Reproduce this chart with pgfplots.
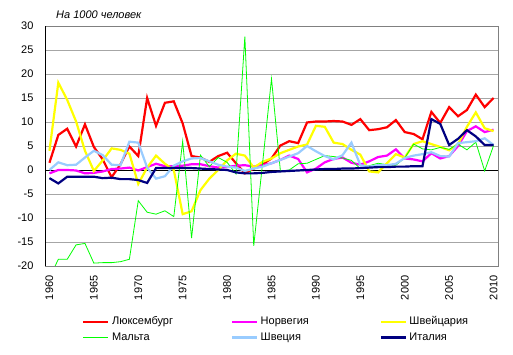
\documentclass[border=0pt]{standalone}
\usepackage{fontspec}
\setmainfont{Liberation Sans}
\usepackage{pgfplots}
\pgfplotsset{compat=1.18}
\definecolor{cLux}{HTML}{FF0000}
\definecolor{cNor}{HTML}{FF00FF}
\definecolor{cSwi}{HTML}{FFFF00}
\definecolor{cMal}{HTML}{00FF00}
\definecolor{cSwe}{HTML}{99CCFF}
\definecolor{cIta}{HTML}{000080}
\definecolor{cGrid}{HTML}{A6A6A6}
\definecolor{cFrame}{HTML}{808080}

\pgfplotstableread{
year lux nor swi mal swe ita
1960 1.5 -0.7 4.0 -22.5 0.0 -1.7
1961 7.3 0.0 18.2 -18.6 1.6 -2.8
1962 8.6 0.0 14.6 -18.6 1.0 -1.4
1963 4.9 -0.1 10.1 -15.6 1.1 -1.4
1964 9.5 -0.7 4.0 -15.3 2.6 -1.4
1965 4.8 -0.6 -0.2 -19.4 4.0 -1.4
1966 2.2 -0.3 2.0 -19.3 3.1 -1.7
1967 -1.5 0.2 4.5 -19.3 1.1 -1.6
1968 1.2 0.3 4.2 -19.1 1.0 -1.9
1969 4.9 0.5 3.4 -18.6 5.9 -1.9
1970 2.9 -0.1 -2.9 -6.4 5.7 -2.1
1971 15.0 0.6 0.5 -8.8 0.5 -2.7
1972 9.2 1.3 3.0 -9.2 -1.8 0.4
1973 14.0 0.8 1.3 -8.5 -1.3 0.4
1974 14.3 0.8 0.0 -9.7 0.9 0.4
1975 9.7 0.9 -9.2 6.0 1.8 0.4
1976 2.9 1.2 -8.6 -14.2 2.4 0.4
1977 2.6 1.2 -4.2 3.1 2.5 0.3
1978 1.7 0.8 -1.8 0.7 1.8 0.2
1979 2.9 0.5 0.0 2.6 1.1 0.1
1980 3.6 0.6 2.0 1.6 0.7 0.0
1981 1.4 0.9 3.4 -0.8 0.5 -0.5
1982 -0.7 1.0 3.0 27.8 -0.2 -0.7
1983 0.3 0.7 0.5 -15.8 0.3 -0.7
1984 1.2 1.0 1.7 1.5 0.7 -0.6
1985 2.4 1.4 2.4 19.0 1.4 -0.4
1986 5.1 2.1 3.5 -0.2 2.1 -0.3
1987 6.0 3.0 4.2 0.0 2.8 -0.2
1988 5.6 2.3 4.9 1.3 3.5 -0.1
1989 9.9 -0.5 5.3 1.4 5.0 0.0
1990 10.1 0.3 9.2 2.2 3.9 0.1
1991 10.1 1.6 9.0 3.0 2.9 0.2
1992 10.2 2.3 5.7 2.8 2.2 0.2
1993 10.1 2.6 5.4 2.5 3.1 0.3
1994 9.4 1.5 4.2 2.0 5.7 0.3
1995 10.6 1.1 3.2 0.3 1.0 0.4
1996 8.3 1.8 -0.3 0.9 0.7 0.5
1997 8.5 2.7 -0.5 1.4 1.0 0.6
1998 8.9 3.0 1.4 1.1 1.0 0.6
1999 10.4 4.3 3.3 1.0 1.3 0.7
2000 7.9 2.4 2.6 2.5 2.5 0.7
2001 7.5 2.2 5.4 5.4 3.0 0.8
2002 6.4 1.8 6.0 4.4 3.3 0.8
2003 12.1 3.5 5.4 4.2 3.7 10.6
2004 9.8 2.4 4.8 4.7 2.9 9.6
2005 13.1 2.9 4.1 4.3 2.8 5.2
2006 11.2 5.0 5.4 5.4 5.6 6.5
2007 12.5 8.1 9.0 4.2 5.8 8.3
2008 15.7 9.1 12.0 5.8 6.0 7.0
2009 13.1 7.9 8.7 -0.2 6.6 5.2
2010 15.0 8.4 8.1 5.1 5.2 5.2
}\datatable

\begin{document}
\begin{tikzpicture}
\path[use as bounding box] (0pt,0pt) rectangle (513pt,355pt);
\node[anchor=base west, inner sep=0pt, font=\fontsize{11}{13}\selectfont\itshape] at (56pt,336pt) {На 1000 человек};
\begin{axis}[
  at={(45pt,89pt)}, anchor=south west,
  scale only axis, width=453pt, height=240pt,
  xmin=1959.5, xmax=2010.5, ymin=-20, ymax=30,
  xtick={1960,1965,...,2010}, ytick={-20,-15,...,30},
  tick style={draw=none},
  ymajorgrids, grid style={cGrid, line width=0.8pt},
  axis line style={cFrame, line width=0.8pt},
  /pgf/number format/assume math mode=true,
  xticklabel style={rotate=90, anchor=east, /pgf/number format/1000 sep={}, font=\fontsize{11}{13}\selectfont},
  yticklabel style={anchor=east, xshift=-8pt, font=\fontsize{11}{13}\selectfont},
  xticklabel shift=6pt,
  legend columns=3,
  legend image code/.code={\draw[#1] (0pt,0pt) -- (25pt,0pt);},
  legend style={draw=none, fill=none, at={(0.082,-0.205)}, anchor=north west,
    inner sep=0pt, font=\fontsize{11}{13}\selectfont,
    nodes={text width=118pt, align=left, inner sep=1pt, text height=8pt, text depth=3pt},
    /tikz/every odd column/.append style={column sep=1.5pt},
    /tikz/every even column/.append style={column sep=0pt},
    row sep=2.7pt},
  clip=true,
]
\addplot[black, line width=0.8pt, forget plot] coordinates {(1959.5,0) (2010.5,0)};
\addplot[cLux, line width=2.2pt, sharp plot] table[x=year, y=lux] {\datatable};
\addlegendentry{Люксембург}
\addplot[cNor, line width=2.2pt, sharp plot] table[x=year, y=nor] {\datatable};
\addlegendentry{Норвегия}
\addplot[cSwi, line width=2.2pt, sharp plot] table[x=year, y=swi] {\datatable};
\addlegendentry{Швейцария}
\addplot[cMal, line width=0.8pt, sharp plot] table[x=year, y=mal] {\datatable};
\addlegendentry{Мальта}
\addplot[cSwe, line width=2.2pt, sharp plot] table[x=year, y=swe] {\datatable};
\addlegendentry{Швеция}
\addplot[cIta, line width=2.2pt, sharp plot] table[x=year, y=ita] {\datatable};
\addlegendentry{Италия}
\draw[black, line width=0.8pt] (rel axis cs:0,0) -- (rel axis cs:0,1);
\end{axis}
\end{tikzpicture}
\end{document}
